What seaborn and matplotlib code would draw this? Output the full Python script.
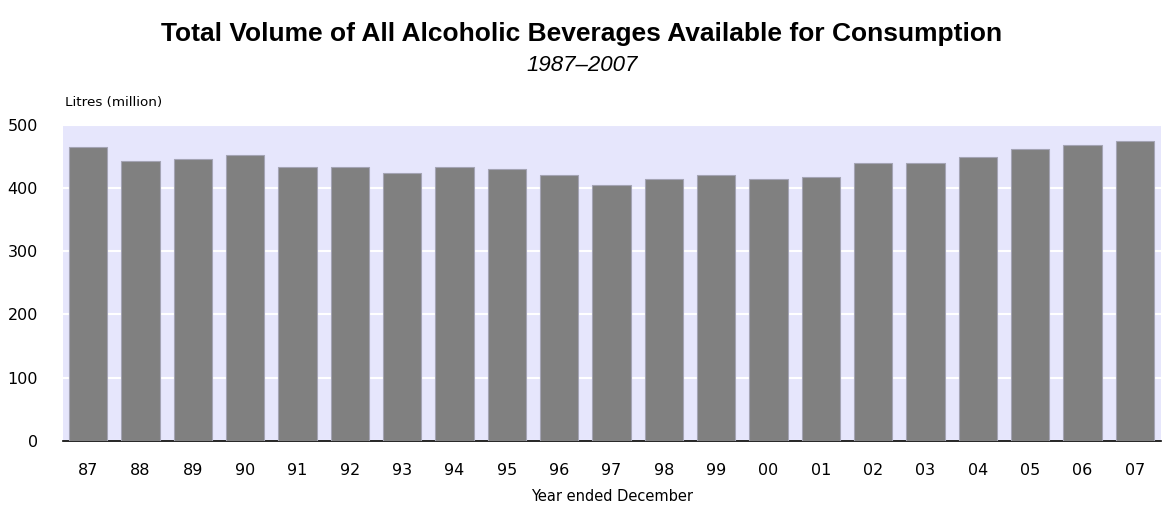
import pandas as pd
import matplotlib
matplotlib.use("Agg")
import matplotlib.pyplot as plt
import seaborn as sns

# --- Data ---
years = ["87", "88", "89", "90", "91", "92", "93", "94", "95", "96", "97",
         "98", "99", "00", "01", "02", "03", "04", "05", "06", "07"]
litres = [465, 443, 446, 452, 433, 433, 424, 433, 430, 420, 405,
          414, 420, 414, 417, 439, 439, 449, 462, 468, 474]

df = pd.DataFrame({"year": years, "litres": litres})

sns.set_theme(style="white")
plt.rcParams['font.family'] = ['DejaVu Sans']

fig = plt.figure(figsize=(11.64, 5.08), dpi=100)
ax = fig.add_axes([0.0541, 0.1325, 0.9433, 0.6215])
ax.set_facecolor("#e6e6fc")

sns.barplot(data=df, x="year", y="litres", color="#808080", width=0.73,
            edgecolor="#a4a4b4", linewidth=0.8, saturation=1, ax=ax, zorder=3)

ax.set_ylim(0, 500)
ax.set_xlim(-0.48, 20.5)
ax.set_yticks([0, 100, 200, 300, 400, 500])
ax.yaxis.grid(True, color="white", linewidth=1.5, zorder=1)
ax.set_axisbelow(True)

for s in ["top", "right", "left"]:
    ax.spines[s].set_visible(False)
ax.spines["bottom"].set_color("black")
ax.spines["bottom"].set_linewidth(1.2)

ax.tick_params(axis="both", length=0, labelsize=11.5, colors="black")
ax.tick_params(axis="x", pad=16)
ax.tick_params(axis="y", pad=18)

ax.set_ylabel("")
ax.set_xlabel("Year ended December", fontsize=10.5, labelpad=8, color="black")

fig.text(0.056, 0.785, "Litres (million)", fontsize=9.7, color="black", ha="left", va="bottom")
fig.text(0.5, 0.934, "Total Volume of All Alcoholic Beverages Available for Consumption",
         fontsize=19, fontweight="bold", ha="center", va="center", color="black",
         family=["Liberation Sans"])
fig.text(0.5, 0.872, "1987\u20132007", fontsize=16, style="italic", ha="center", va="center",
         color="black", family=["Liberation Sans"])

plt.savefig("out.png", dpi=100)
plt.close()
